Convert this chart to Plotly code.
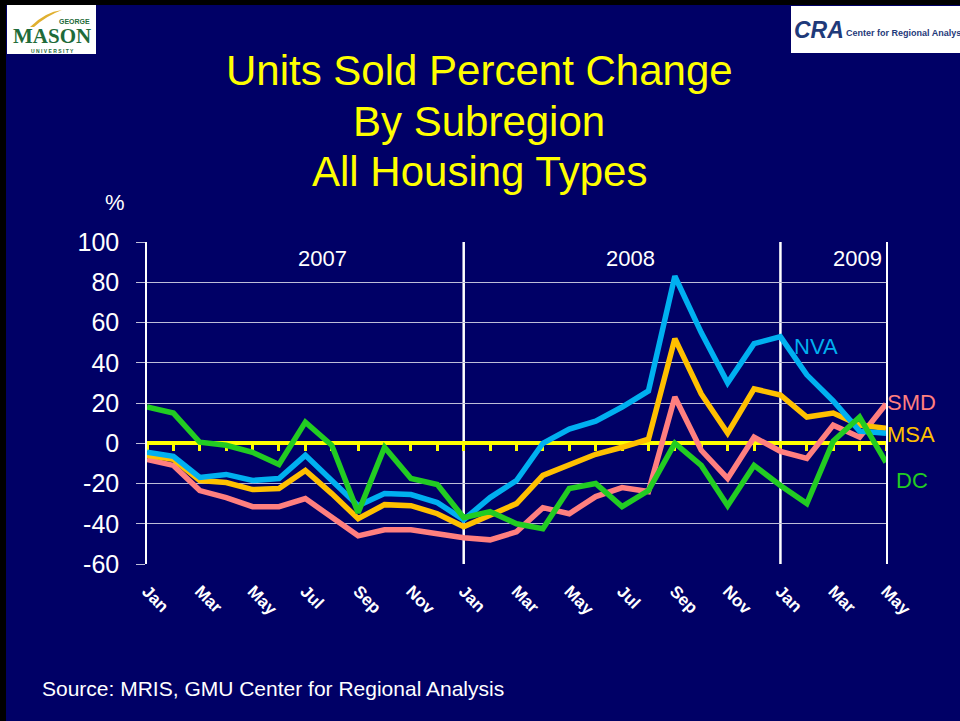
import plotly.graph_objects as go

# ---------------- data ----------------
month_names = ["Jan", "Feb", "Mar", "Apr", "May", "Jun", "Jul", "Aug", "Sep", "Oct", "Nov", "Dec",
               "Jan", "Feb", "Mar", "Apr", "May", "Jun", "Jul", "Aug", "Sep", "Oct", "Nov", "Dec",
               "Jan", "Feb", "Mar", "Apr", "May"]
years = ["2007", "2008", "2009"]
year_start_month = [0, 12, 24]
y_ticks = [-60, -40, -20, 0, 20, 40, 60, 80, 100]

NVA = [-4.5, -6.5, -17, -15.5, -18.5, -17.5, -6, -18.5, -31, -25, -25.5, -29.5,
       -38, -27, -18.5, 0, 7, 11, 18, 26, 83, 55, 30, 49.5, 53, 34, 21, 6, 5]
MSA = [-6, -8, -18.5, -19.5, -23, -22.5, -13.5, -25, -37.5, -30.5, -31, -35,
       -41.5, -36, -30, -16, -11, -5.5, -2, 2, 52, 24.5, 5, 27, 24, 13, 15, 9, 7.5]
SMD = [-8, -11, -23.5, -27, -31.5, -31.5, -27.5, -36.5, -46, -43, -43, -45,
       -47, -48, -44, -32, -35, -26.5, -22, -24, 23, -3.5, -17.5, 3, -4, -7.5, 9, 3, 19.5]
DC = [18, 15, 0.5, -1, -4.5, -10.5, 10.5, -1, -34.5, -2, -17.5, -20.5,
      -37, -34, -40, -42.5, -22.5, -20, -31.5, -23.5, 0, -11, -31, -11, -21, -30, 1, 13, -9.5]

series_names = ["SMD", "MSA", "NVA", "DC"]
series_values = [SMD, MSA, NVA, DC]
series_colors = ["#FF7F7F", "#FFC000", "#00B0F0", "#22CC22"]

title_lines = ["Units Sold Percent Change", "By Subregion", "All Housing Types"]
source_text = "Source: MRIS, GMU Center for Regional Analysis"

# ---------------- layout helpers ----------------
W, H = 960, 721
L, R, T, B = 147, 74, 242, 157
PW, PH = W - L - R, H - T - B
NAVY = "#000066"
GRID = "#BDBDD8"
FONT = "Arial, Liberation Sans, sans-serif"


def fx(px):
    return (px - L) / PW


def fy(py):
    return (H - B - py) / PH


idx = list(range(len(month_names)))
ticktext = [m if i % 2 == 0 else "" for i, m in enumerate(month_names)]

fig = go.Figure()

for name, vals, col in zip(series_names, series_values, series_colors):
    fig.add_trace(go.Scatter(x=idx, y=vals, mode="lines", name=name,
                             line=dict(color=col, width=5.5), showlegend=False))

# invisible trace so the zero-line axis (x2) is drawn
fig.add_trace(go.Scatter(x=idx, y=DC, xaxis="x2", mode="lines", opacity=0,
                         line=dict(width=0), hoverinfo="skip", showlegend=False))

ymin, ymax = y_ticks[0], y_ticks[-1]

fig.update_layout(
    width=W, height=H,
    margin=dict(l=L, r=R, t=T, b=B, pad=0),
    paper_bgcolor=NAVY, plot_bgcolor=NAVY,
    font=dict(family=FONT, color="white"),
    xaxis=dict(range=[0, len(idx) - 1], tickmode="array", tickvals=idx, ticktext=ticktext,
               tickangle=45, ticks="", showgrid=False, zeroline=False, showline=False,
               tickfont=dict(family=FONT, size=17, color="white", weight="bold"),
               ticklabelstandoff=13),
    xaxis2=dict(range=[0, len(idx) - 1], overlaying="x", anchor="free", position=-ymin / (ymax - ymin),
                side="bottom", showline=True, linecolor="#FFFF00", linewidth=4,
                ticks="outside", tickvals=idx, ticklen=6, tickwidth=3, tickcolor="#FFFF00",
                showticklabels=False, showgrid=False, zeroline=False, layer="below traces"),
    yaxis=dict(range=[ymin, ymax], tickmode="array", tickvals=y_ticks,
               ticktext=[str(v) for v in y_ticks],
               showgrid=True, gridcolor=GRID, gridwidth=1, zeroline=False,
               showline=True, linecolor="white", linewidth=1.5, mirror=True,
               ticks="outside", ticklen=9, tickcolor=GRID, tickwidth=1,
               tickfont=dict(family=FONT, size=25, color="white"), ticklabelstandoff=12),
)

shapes = []
# year separators
for m in year_start_month[1:]:
    shapes.append(dict(type="line", xref="x", yref="paper", x0=m, x1=m, y0=0, y1=1,
                       line=dict(color="white", width=2.5), layer="below"))
# slide black edges
shapes.append(dict(type="rect", xref="paper", yref="paper", x0=fx(0), x1=fx(W), y0=fy(0), y1=fy(5),
                   fillcolor="black", line=dict(width=0), layer="above"))
shapes.append(dict(type="rect", xref="paper", yref="paper", x0=fx(0), x1=fx(6), y0=fy(0), y1=fy(H),
                   fillcolor="black", line=dict(width=0), layer="above"))
# logo boxes
shapes.append(dict(type="rect", xref="paper", yref="paper", x0=fx(7), x1=fx(96), y0=fy(5), y1=fy(54),
                   fillcolor="white", line=dict(width=0), layer="above"))
shapes.append(dict(type="rect", xref="paper", yref="paper", x0=fx(791), x1=fx(960), y0=fy(6), y1=fy(53),
                   fillcolor="white", line=dict(width=0), layer="above"))
# GMU swoosh
shapes.append(dict(type="path", xref="paper", yref="paper",
                   path=f"M {fx(30)},{fy(27)} Q {fx(45)},{fy(12)} {fx(62)},{fy(10)} Q {fx(46)},{fy(16)} {fx(34)},{fy(27)} Z",
                   fillcolor="#E0B030", line=dict(width=0), layer="above"))
fig.update_layout(shapes=shapes)

ann = []
# title
for line, py in zip(title_lines, [70, 121, 171]):
    ann.append(dict(text=line, xref="paper", yref="paper", x=fx(479), y=fy(py),
                    xanchor="center", yanchor="middle", showarrow=False,
                    font=dict(family=FONT, size=42, color="#FFFF00")))
# % label
ann.append(dict(text="%", xref="paper", yref="paper", x=fx(115), y=fy(203), xanchor="center",
                yanchor="middle", showarrow=False, font=dict(family=FONT, size=22, color="white")))
# year labels
for yr, px in zip(years, [322, 630, 857]):
    ann.append(dict(text=yr, xref="paper", yref="paper", x=fx(px), y=fy(258), xanchor="center",
                    yanchor="middle", showarrow=False, font=dict(family=FONT, size=22, color="white")))
# series labels
label_pos = {"NVA": (816, 346), "SMD": (911, 402), "MSA": (911, 434), "DC": (912, 480)}
for name, col in zip(series_names, series_colors):
    px, py = label_pos[name]
    ann.append(dict(text=name, xref="paper", yref="paper", x=fx(px), y=fy(py), xanchor="center",
                    yanchor="middle", showarrow=False, font=dict(family=FONT, size=22, color=col)))
# source
ann.append(dict(text=source_text, xref="paper", yref="paper", x=fx(40), y=fy(688), xanchor="left",
                yanchor="middle", showarrow=False, font=dict(family=FONT, size=21, color="white")))
# GMU logo text
ann.append(dict(text="<b>MASON</b>", xref="paper", yref="paper", x=fx(52), y=fy(36), xanchor="center",
                yanchor="middle", showarrow=False,
                font=dict(family="Liberation Serif, serif", size=21, color="#1E6B3A")))
ann.append(dict(text="<b>GEORGE</b>", xref="paper", yref="paper", x=fx(74), y=fy(21), xanchor="center",
                yanchor="middle", showarrow=False, font=dict(family=FONT, size=7, color="#1E6B3A")))
ann.append(dict(text="<b>U N I V E R S I T Y</b>", xref="paper", yref="paper", x=fx(52), y=fy(51),
                xanchor="center", yanchor="middle", showarrow=False,
                font=dict(family=FONT, size=5, color="#1E6B3A")))
# CRA logo text
ann.append(dict(text="<b><i>CRA</i></b>", xref="paper", yref="paper", x=fx(792), y=fy(30), xanchor="left",
                yanchor="middle", showarrow=False,
                font=dict(family=FONT, size=23, color="#1F3A7A")))
ann.append(dict(text="<b>Center for Regional Analys</b>", xref="paper", yref="paper", x=fx(844), y=fy(33),
                xanchor="left", yanchor="middle", showarrow=False,
                font=dict(family=FONT, size=9, color="#1F3A7A")))
fig.update_layout(annotations=ann)

fig.write_html("out.html", config={"displayModeBar": False},
               post_script="document.body.style.margin='0';document.body.style.padding='0';")
